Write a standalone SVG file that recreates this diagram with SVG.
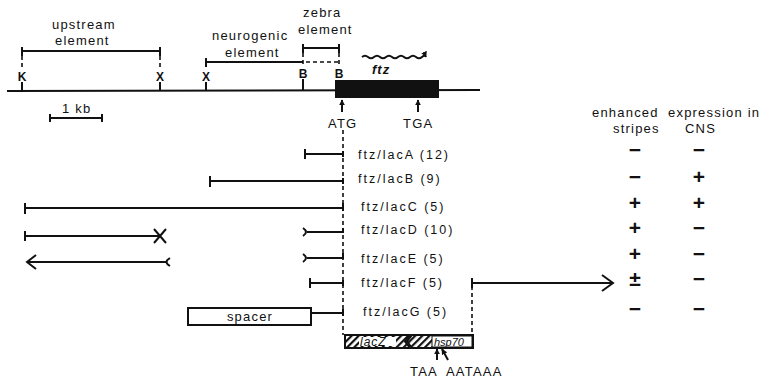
<svg xmlns="http://www.w3.org/2000/svg" width="763" height="378" viewBox="0 0 763 378">
<defs>
<style>
text{font-family:"Liberation Sans","DejaVu Sans",sans-serif;fill:#111}
.h{font-size:13px;letter-spacing:1.2px}
.lab{font-size:12.5px;letter-spacing:2px}
.ltr{font-size:12px;font-weight:bold;text-anchor:middle}
.sym{font-size:21px;font-weight:bold;text-anchor:middle}
.ln{stroke:#111;stroke-width:2;fill:none}
.tk{stroke:#111;stroke-width:2;fill:none}
.ds{stroke:#111;stroke-width:1.6;fill:none;stroke-dasharray:4 3}
</style>
<pattern id="hatch" patternUnits="userSpaceOnUse" width="5" height="5" patternTransform="rotate(45)">
<rect width="5" height="5" fill="#fff"/>
<line x1="1" y1="0" x2="1" y2="5" stroke="#111" stroke-width="2.4"/>
</pattern>
<marker id="ah" viewBox="0 0 10 10" refX="9" refY="5" markerWidth="6" markerHeight="6" markerUnits="userSpaceOnUse" orient="auto">
<path d="M0,0 L10,5 L0,10 z" fill="#111"/>
</marker>
</defs>
<rect width="763" height="378" fill="#fff"/>

<g id="map">
<line class="ln" x1="7" y1="91" x2="480" y2="90" stroke-width="2.5"/>
<rect x="335" y="80" width="104" height="18" fill="#111"/>
<text class="h" x="52" y="29">upstream</text>
<text class="h" x="55" y="45">element</text>
<path class="ln" d="M22,51 H160 M22,47 V56 M160,47 V56"/>
<line class="ds" x1="22" y1="56" x2="22" y2="70"/>
<line class="ds" x1="160" y1="56" x2="160" y2="70"/>
<text class="h" x="212" y="40">neurogenic</text>
<text class="h" x="225" y="57">element</text>
<path class="ln" d="M206,62 H303 M206,58 V67"/>
<line class="ds" x1="306" y1="62" x2="338" y2="62"/>
<text class="h" x="303" y="17">zebra</text>
<text class="h" x="298" y="34">element</text>
<path class="ln" d="M303,48 H339 M303,44 V53 M339,44 V53"/>
<line class="ds" x1="303" y1="53" x2="303" y2="67"/>
<line class="ds" x1="339" y1="53" x2="339" y2="67"/>
<text class="ltr" x="22" y="81">K</text>
<text class="ltr" x="160" y="81">X</text>
<text class="ltr" x="206" y="81">X</text>
<text class="ltr" x="303" y="78">B</text>
<text class="ltr" x="339" y="78">B</text>
<path class="tk" d="M22,82 V91 M160,82 V91 M206,82 V91 M303,79 V91"/>
<path class="ln" d="M362,57 q3,-2.5 6,0 t6,0 t6,0 t6,0 t6,0 t6,0 t6,0 t6,0 t6,0 t6,0 t4,0" stroke-width="1.4" marker-end="url(#ah)"/>
<text x="372" y="74" font-size="13" font-style="italic" font-weight="bold" letter-spacing="1">ftz</text>
<line class="ln" x1="342" y1="112" x2="342" y2="100" stroke-width="1.5" marker-end="url(#ah)"/>
<line class="ln" x1="418" y1="112" x2="418" y2="100" stroke-width="1.5" marker-end="url(#ah)"/>
<text class="h" x="328" y="128">ATG</text>
<text class="h" x="403" y="128">TGA</text>
<path class="ln" d="M50,118 H102 M50,114 V122 M102,114 V122"/>
<text class="h" x="62" y="113">1 kb</text>
</g>

<g id="connectors">
<line class="ds" x1="343" y1="130" x2="343" y2="335"/>
<line class="ds" x1="472" y1="286" x2="472" y2="335"/>
</g>

<g id="lacA">
<path class="ln" d="M305,154 H343 M305,149 V159 M343,151 V157"/>
<text class="lab" x="358" y="159">ftz/lacA (12)</text>
</g>
<g id="lacB">
<path class="ln" d="M210,181 H343 M210,176 V187 M343,178 V184"/>
<text class="lab" x="358" y="183">ftz/lacB (9)</text>
</g>
<g id="lacC">
<path class="ln" d="M25,208 H343 M25,203 V214 M343,203 V211"/>
<text class="lab" x="361" y="211">ftz/lacC (5)</text>
</g>
<g id="lacD">
<path class="ln" d="M25,236 H160 M25,231 V241 M154,229 L166,243 M154,243 L166,229" />
<path class="ln" d="M303,228 Q309,232 303,236 M307,232 H343 M343,228 V233"/>
<text class="lab" x="361" y="234">ftz/lacD (10)</text>
</g>
<g id="lacE">
<path class="ln" d="M28,262 H166 M36,255 L27,262 L36,269 M170,258 Q163,262 170,266"/>
<path class="ln" d="M303,254 Q309,258 303,262 M307,258 H343 M343,253 V259"/>
<text class="lab" x="361" y="263">ftz/lacE (5)</text>
</g>
<g id="lacF">
<path class="ln" d="M310,283 H343 M310,278 V288 M343,280 V286"/>
<text class="lab" x="361" y="287">ftz/lacF (5)</text>
<path class="ln" d="M472,283 H612 M472,278 V288 M602,275 L613,283 L602,291"/>
</g>
<g id="lacG">
<rect x="188" y="308" width="123" height="17" fill="#fff" stroke="#111" stroke-width="2"/>
<text class="h" x="250" y="321" text-anchor="middle">spacer</text>
<path class="ln" d="M311,313 H343 M343,309 V316"/>
<text class="lab" x="363" y="316">ftz/lacG (5)</text>
</g>

<g id="construct">
<path d="M345,335 H410 L405,341.5 L410,348 H345 Z" fill="url(#hatch)" stroke="#111" stroke-width="2"/>
<rect x="359" y="337" width="37" height="9" fill="#fff"/>
<text x="360" y="346" font-size="12" font-style="italic" letter-spacing="1">lacZ</text>
<path d="M412,335 H473 V348 H412 L407,341.5 Z" fill="url(#hatch)" stroke="#111" stroke-width="2"/>
<rect x="432" y="336" width="40" height="11" fill="#fff" stroke="#111" stroke-width="1"/>
<text x="434" y="346" font-size="11" font-style="italic">hsp70</text>
<line class="ln" x1="437" y1="360" x2="437" y2="349" stroke-width="1.3" marker-end="url(#ah)"/>
<line class="ln" x1="448" y1="360" x2="442" y2="349" stroke-width="1.3" marker-end="url(#ah)"/>
<text class="h" x="410" y="376">TAA</text>
<text class="h" x="446" y="376">AATAAA</text>
</g>

<g id="table">
<text class="h" x="592" y="117">enhanced</text>
<text class="h" x="668" y="117">expression in</text>
<text class="h" x="613" y="133">stripes</text>
<text class="h" x="685" y="133">CNS</text>
<text class="sym" x="635" y="157">−</text><text class="sym" x="699" y="157">−</text>
<text class="sym" x="635" y="184">−</text><text class="sym" x="699" y="184">+</text>
<text class="sym" x="635" y="210">+</text><text class="sym" x="699" y="210">+</text>
<text class="sym" x="635" y="235">+</text><text class="sym" x="699" y="235">−</text>
<text class="sym" x="635" y="261">+</text><text class="sym" x="699" y="261">−</text>
<text class="sym" x="635" y="286">±</text><text class="sym" x="699" y="286">−</text>
<text class="sym" x="635" y="316">−</text><text class="sym" x="699" y="316">−</text>
</g>
</svg>
